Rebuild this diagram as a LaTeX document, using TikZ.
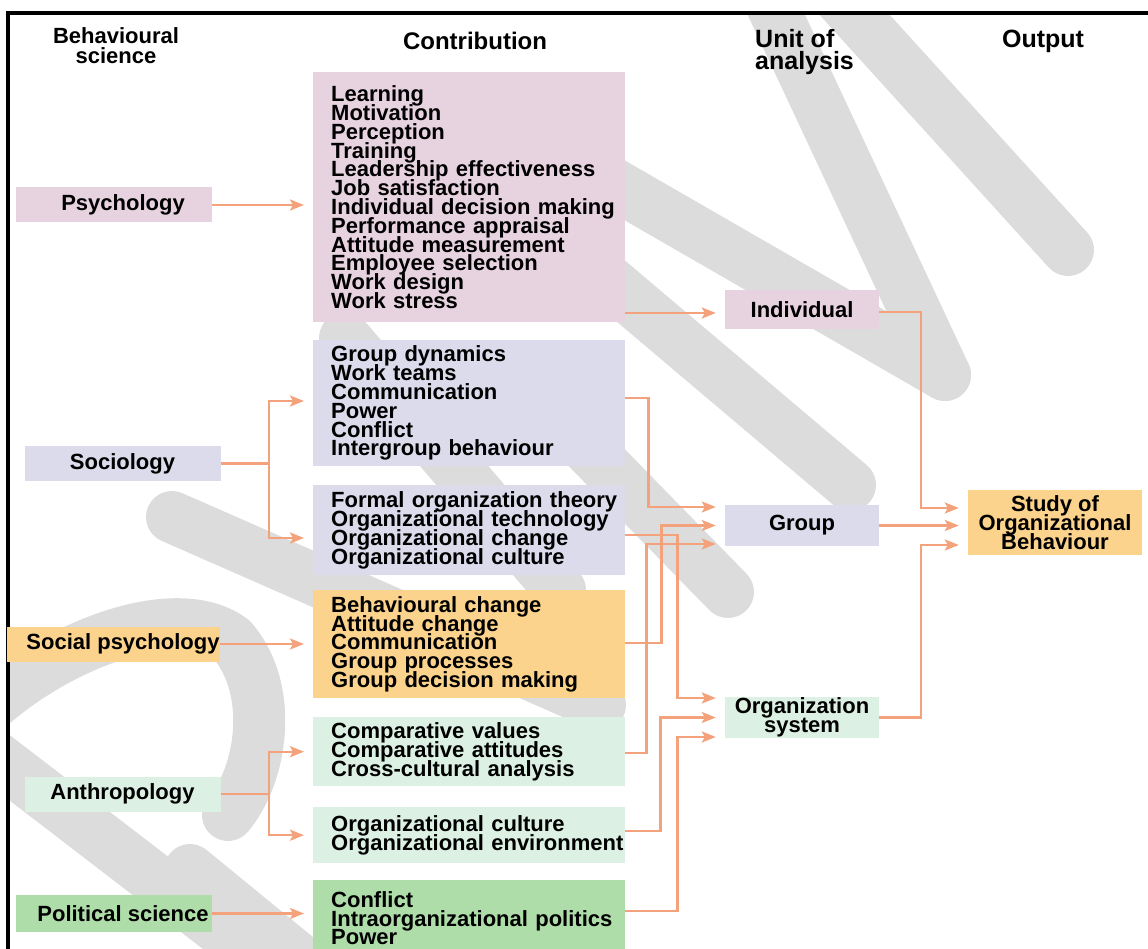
\documentclass[tikz,border=0pt]{standalone}
\usepackage{fontspec}
\setmainfont{Liberation Sans}
\usetikzlibrary{arrows.meta}

\definecolor{wmgray}{HTML}{DCDCDC}
\definecolor{linkcol}{HTML}{F4A27C}
\definecolor{boxpink}{HTML}{E7D3DF}
\definecolor{boxlav}{HTML}{DCDBEC}
\definecolor{boxorange}{HTML}{FCD38C}
\definecolor{boxmint}{HTML}{DCF1E4}
\definecolor{boxgreen}{HTML}{AEDDA9}

\newcommand\tightlines{\lineskiplimit=-50pt\relax\hyphenpenalty=10000\relax\exhyphenpenalty=10000\relax}

\tikzset{
	every node/.style={font=\bfseries\fontsize{22}{18.8}\selectfont, execute at begin node=\tightlines},
	head/.style={font=\bfseries\fontsize{25}{22}\selectfont},
	science/.style={fill=#1, minimum width=196pt, minimum height=35pt, inner sep=0pt},
	nudged/.style={execute at begin node={\tightlines\hskip19pt}},
	contrib/.style={fill=#1, anchor=north west, minimum width=312pt, text width=276pt,
		inner xsep=18pt, inner ysep=0pt, align=left},
	unitbox/.style={fill=#1, minimum width=154pt, minimum height=40pt, inner sep=0pt, align=center},
	wmark/.style={draw=wmgray, line width=52pt, line cap=round},
	link/.style={draw=linkcol, line width=2.4pt},
	arrow/.style={link, shorten >=9pt, -{Stealth[length=14pt,width=11pt,inset=3pt]}}
}

\begin{document}
\begin{tikzpicture}[x=1pt, y=-1pt]
	\useasboundingbox (0,0) rectangle (1148,949);
	% watermark strokes behind the chart
	\begin{scope}
		\clip (8,13) rectangle (1148,949);
		\foreach \a/\b in {{823,-20}/{1068,250}, {760,-20}/{945,375}, {520,130}/{945,375},
			{590,265}/{850,485}, {345,338}/{560,590}, {560,420}/{728,592},
			{172,517}/{600,705}, {-20,745}/{260,960}, {190,870}/{300,960}} {
			\draw[wmark] (\a) -- (\b);
		}
		\draw[wmark] (-20,715) .. controls (60,640) and (180,600) .. (232,640)
			.. controls (275,690) and (262,775) .. (228,815);
	\end{scope}
	% frame
	\draw[line width=3.5pt] (8,949) -- (8,13) -- (1148,13);

	% column heads
	\node[font=\bfseries\fontsize{22}{20}\selectfont, align=center] (hsci) at (116,46) {Behavioural\\science};
	\node[font=\bfseries\fontsize{24}{22}\selectfont] (hcon) at (475,41) {Contribution};
	\node[head, align=left, anchor=west, inner sep=0pt] (hunit) at (755,52) {Unit of\\analysis};
	\node[head] (hout) at (1043,41) {Output};

	% behavioural sciences
	\node[science=boxpink, nudged] (psy) at (113.5,205) {Psychology};
	\node[science=boxlav] (soc) at (122.5,463.5) {Sociology};
	\node[science=boxorange, nudged] (socpsy) at (113.5,644) {Social psychology};
	\node[science=boxmint] (anth) at (122.5,794) {Anthropology};
	\node[science=boxgreen, nudged, minimum height=37pt] (pol) at (113.5,913.5) {Political science};

	% contributions
	\node[contrib=boxpink, minimum height=250pt] (psyc) at (313,72) {Learning\\Motivation\\Perception\\Training\\
		Leadership~effectiveness\\Job satisfaction\\Individual~decision~making\\Performance~appraisal\\
		Attitude~measurement\\Employee selection\\Work design\\Work stress};
	\node[contrib=boxlav, minimum height=126pt] (gdyn) at (313,340) {Group dynamics\\Work teams\\Communication\\
		Power\\Conflict\\Intergroup behaviour};
	\node[contrib=boxlav, minimum height=90pt] (form) at (313,485) {Formal~organization~theory\\
		Organizational~technology\\Organizational change\\Organizational culture};
	\node[contrib=boxorange, minimum height=108pt] (behc) at (313,590) {Behavioural change\\Attitude change\\
		Communication\\Group processes\\Group decision making};
	\node[contrib=boxmint, minimum height=69pt] (compv) at (313,717) {Comparative values\\
		Comparative attitudes\\Cross-cultural analysis};
	\node[contrib=boxmint, minimum height=56pt] (orgc) at (313,807) {Organizational culture\\
		Organizational~environment};
	\node[contrib=boxgreen, minimum height=76pt] (conf) at (313,880) {Conflict\\
		Intraorganizational~politics\\Power};

	% units of analysis and output
	\node[unitbox=boxpink, minimum height=39pt] (indiv) at (802,309.5) {Individual};
	\node[unitbox=boxlav, minimum height=41pt] (grp) at (802,525.5) {Group};
	\node[unitbox=boxmint, minimum height=41pt] (orgsys) at (802,717.5) {Organization\\system};
	\node[unitbox=boxorange, minimum width=174pt, minimum height=65pt] (study) at (1055,522.5)
		{Study of\\Organizational\\Behaviour};

	% science -> contribution
	\draw[arrow] (psy.east) -- (psy.east -| psyc.west);
	\draw[link] (soc.east) -- ++(48,0) coordinate (socfork);
	\draw[arrow] (socfork) |- (gdyn.west |- 0,401);
	\draw[arrow] (socfork) |- (form.west |- 0,538);
	\draw[arrow] (socpsy.east) -- (socpsy.east -| behc.west);
	\draw[link] (anth.east) -- ++(48,0) coordinate (anthfork);
	\draw[arrow] (anthfork) |- (compv.west);
	\draw[arrow] (anthfork) |- (orgc.west);
	\draw[arrow] (pol.east) -- (pol.east -| conf.west);

	% contribution -> unit of analysis
	\draw[arrow] (psyc.east |- 0,313) -- (indiv.west |- 0,313);
	\draw[arrow] (gdyn.east |- 0,398) -- ++(23,0) |- (grp.west |- 0,507);
	\draw[arrow] (form.east |- 0,535) -- ++(52,0) |- (orgsys.west |- 0,698);
	\draw[arrow] (behc.east |- 0,643) -- ++(36,0) |- (grp.west);
	\draw[arrow] (compv.east |- 0,753) -- ++(21,0) |- (grp.west |- 0,544);
	\draw[arrow] (orgc.east |- 0,831) -- ++(35,0) |- (orgsys.west);
	\draw[arrow] (conf.east |- 0,911) -- ++(52,0) |- (orgsys.west |- 0,737);

	% unit of analysis -> output
	\draw[arrow] (indiv.east |- 0,312) -- ++(42,0) |- (study.west |- 0,508);
	\draw[arrow] (grp.east) -- (grp.east -| study.west);
	\draw[arrow] (orgsys.east) -- ++(42,0) |- (study.west |- 0,545);
\end{tikzpicture}
\end{document}
